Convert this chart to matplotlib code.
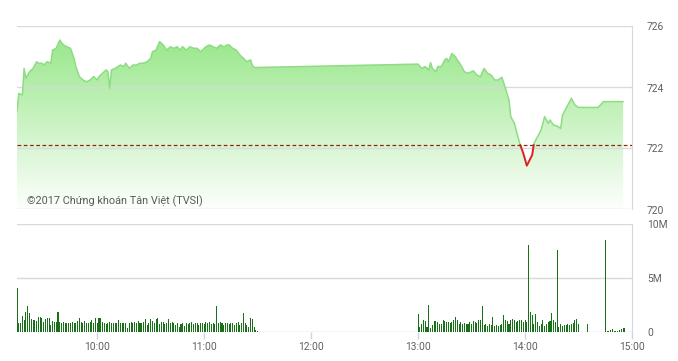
import numpy as np
import matplotlib
matplotlib.use("Agg")
import matplotlib.pyplot as plt
import matplotlib.transforms as mtransforms

plt.rcParams['font.family'] = ['Roboto', 'DejaVu Sans']

# ---------------- data ----------------
price_times = [
    "09:15", "09:16", "09:18", "09:19", "09:20", "09:22", "09:24", "09:26", "09:27", "09:29",
    "09:30", "09:32", "09:34", "09:35", "09:37", "09:39", "09:41", "09:43", "09:45", "09:47",
    "09:48", "09:50", "09:52", "09:54", "09:56", "09:58", "10:00", "10:01", "10:03", "10:05",
    "10:06", "10:07", "10:08", "10:10", "10:13", "10:15", "10:16", "10:18", "10:20", "10:22",
    "10:24", "10:26", "10:28", "10:30", "10:31", "10:33", "10:35", "10:37", "10:39", "10:41",
    "10:43", "10:45", "10:46", "10:48", "10:50", "10:52", "10:54", "10:56", "10:58", "10:59",
    "11:01", "11:03", "11:05", "11:07", "11:09", "11:11", "11:13", "11:14", "11:16", "11:18",
    "11:20", "11:22", "11:24", "11:26", "11:27", "11:28", "11:30",
    "13:00", "13:02", "13:04", "13:06", "13:07", "13:08", "13:10", "13:11", "13:13", "13:15",
    "13:16", "13:17", "13:19", "13:21", "13:22", "13:24", "13:26", "13:28", "13:30", "13:31",
    "13:33", "13:35", "13:37", "13:39", "13:41", "13:43", "13:45", "13:47", "13:49", "13:51",
    "13:52", "13:54", "13:56", "13:57", "13:59", "14:01", "14:04", "14:05", "14:07", "14:09",
    "14:11", "14:13", "14:14", "14:16", "14:18", "14:20", "14:21", "14:23", "14:25", "14:26",
    "14:28", "14:30", "14:41", "14:44", "14:55",
]
price_values = [
    723.19, 723.79, 723.74, 724.61, 724.28, 724.50, 724.61, 724.83, 724.78, 724.78,
    724.72, 724.83, 724.78, 725.21, 725.27, 725.54, 725.38, 725.32, 725.27, 724.94,
    724.67, 724.34, 724.23, 724.17, 724.23, 724.34, 724.23, 724.34, 724.45, 724.56,
    724.50, 723.96, 724.56, 724.61, 724.72, 724.67, 724.78, 724.61, 724.72, 724.72,
    724.78, 724.78, 724.83, 724.94, 725.16, 725.21, 725.49, 725.38, 725.21, 725.32,
    725.27, 725.32, 725.21, 725.32, 725.21, 725.32, 725.27, 725.27, 725.16, 725.21,
    725.32, 725.38, 725.32, 725.27, 725.38, 725.32, 725.38, 725.38, 725.27, 725.21,
    725.05, 724.94, 724.83, 724.89, 724.72, 724.64, 724.64,
    724.75, 724.61, 724.67, 724.56, 724.80, 724.61, 724.50, 724.67, 724.67, 724.89,
    724.94, 724.83, 725.10, 724.99, 724.89, 724.72, 724.50, 724.45, 724.50, 724.53,
    724.39, 724.34, 724.61, 724.45, 724.39, 724.23, 724.23, 724.32, 723.96, 723.57,
    723.03, 722.81, 722.37, 722.15, 721.83, 721.42, 721.77, 722.15, 722.37, 722.59,
    723.03, 722.81, 722.92, 722.75, 722.72, 722.64, 723.08, 723.30, 723.52, 723.63,
    723.41, 723.33, 723.33, 723.52, 723.52,
]
reference_price = 722.09

vol_morning_start = "09:15"
vol_morning = [  # millions, one bar per minute
    4.04, 0.80, 0.86, 1.48, 1.11, 1.85, 2.41, 1.79, 1.17, 1.11,
    1.11, 1.05, 1.42, 1.42, 1.27, 0.96, 1.17, 1.27, 1.27, 0.65,
    1.02, 0.96, 0.96, 1.88, 0.90, 0.86, 0.93, 0.80, 0.86, 0.80,
    0.86, 0.93, 0.80, 0.86, 0.99, 1.30, 0.96, 0.86, 1.02, 0.80,
    0.86, 0.96, 1.11, 0.86, 1.30, 0.80, 1.30, 1.27, 0.96, 0.86,
    0.74, 0.86, 0.96, 0.80, 0.86, 0.86, 0.80, 1.11, 0.80, 0.86,
    0.80, 0.80, 0.40, 0.80, 0.96, 0.80, 0.96, 0.86, 1.02, 0.80,
    0.80, 0.96, 1.17, 0.65, 0.86, 1.17, 1.05, 0.80, 1.17, 1.27,
    0.74, 0.96, 0.96, 0.74, 0.86, 1.17, 0.80, 0.96, 0.80, 0.65,
    0.86, 0.49, 0.74, 0.80, 0.56, 0.86, 0.74, 0.80, 0.96, 0.74,
    0.86, 0.80, 0.65, 0.86, 0.86, 0.74, 0.96, 0.80, 0.96, 0.74,
    0.86, 0.74, 2.41, 0.80, 0.96, 0.80, 0.65, 0.80, 0.86, 0.74,
    0.86, 0.80, 0.65, 0.80, 0.96, 0.65, 0.86, 1.79, 0.80, 0.65,
    0.49, 1.27, 1.17, 0.49, 0.19, 0.09,
]
vol_afternoon_start = "13:00"
vol_afternoon = [
    1.70, 0.46, 0.77, 1.08, 1.02, 0.46, 2.47, 0.40, 0.62, 1.02,
    1.02, 0.93, 0.77, 0.71, 1.08, 1.02, 0.93, 0.93, 0.83, 0.93,
    1.08, 1.39, 1.14, 0.77, 0.93, 0.77, 0.83, 0.77, 0.71, 0.93,
    0.77, 1.02, 0.93, 0.83, 1.08, 1.14, 2.38, 0.62, 0.71, 0.52,
    0.71, 0.62, 1.39, 0.52, 0.62, 0.52, 0.62, 0.77, 1.54, 1.08,
    1.02, 0.77, 1.14, 1.23, 1.08, 0.93, 1.02, 1.14, 1.14, 0.93,
    1.08, 0.93, 8.10, 1.82, 1.54, 0.77, 1.64, 0.93, 0.52, 0.77,
    1.14, 0.52, 0.77, 0.93, 1.02, 1.79, 1.08, 0.93, 7.56, 0.46,
    0.77, 0.52, 0.62, 0.62, 0.71, 0.62, 0.77, 0.83, 1.14, 1.20,
    0.71,
]
vol_late_times = ["14:35", "14:45", "14:46", "14:47", "14:48", "14:49", "14:50",
                  "14:51", "14:52", "14:53", "14:54", "14:55", "14:56"]
vol_late = [0.70, 8.50, 0.09, 0.10, 0.15, 0.28, 0.12, 0.10, 0.12, 0.18, 0.25, 0.40, 0.40]

price_ticks = [720, 722, 724, 726]
vol_ticks = [0, 5, 10]
vol_tick_labels = ["0", "5M", "10M"]
time_ticks = ["10:00", "11:00", "12:00", "13:00", "14:00", "15:00"]
axis_start, axis_end = "09:15", "15:00"
copyright_text = "©2017 Chứng khoán Tân Việt (TVSI)"


def to_min(s):
    h, m = map(int, s.split(":"))
    return (h - 9) * 60 + (m - 15)


# ---------------- figure ----------------
W, H = 678, 361
fig = plt.figure(figsize=(W / 100, H / 100), dpi=100)

def px_axes(x0, y_top, x1, y_bot):
    return fig.add_axes([x0 / W, (H - y_bot) / H, (x1 - x0) / W, (y_bot - y_top) / H])

ax = px_axes(17, 26, 632, 209)
ax2 = px_axes(17, 224, 632, 332)

t0, t1 = to_min(axis_start), to_min(axis_end)
grid_c = '#d8d8d8'
label_c = '#606060'
fs = 7.4

# ---- price panel ----
t = np.array([to_min(s) for s in price_times], dtype=float)
p = np.array(price_values)

poly = ax.fill_between(t, price_ticks[0], p, color='none', lw=0)
n = 256
frac = np.linspace(0, 1, n)
rgba = np.zeros((n, 1, 4))
rgba[..., 0] = 0.56
rgba[..., 1] = 0.90
rgba[..., 2] = 0.50
rgba[:, 0, 3] = 0.02 + 0.95 * frac
im = ax.imshow(rgba, extent=[t0, t1, price_ticks[0], price_ticks[-1]], origin='lower',
               aspect='auto', zorder=1, interpolation='bilinear')
im.set_clip_path(poly.get_paths()[0], transform=ax.transData)

# line with red part below reference
tt, pp = [t[0]], [p[0]]
for i in range(1, len(t)):
    a, b = p[i - 1] - reference_price, p[i] - reference_price
    if a * b < 0:
        f = a / (a - b)
        tt.append(t[i - 1] + f * (t[i] - t[i - 1]))
        pp.append(reference_price)
    tt.append(t[i]); pp.append(p[i])
tt, pp = np.array(tt), np.array(pp)
ax.plot(tt, np.ma.masked_where(pp < reference_price - 1e-9, pp), color='#8edc84', lw=1.1, zorder=3)
ax.plot(tt, np.ma.masked_where(pp > reference_price + 1e-9, pp), color='#e02020', lw=1.4, zorder=3)

for v in price_ticks:
    ax.axhline(v, color=grid_c, lw=1, zorder=2, alpha=0.9)
ax.axhline(reference_price, color='#8b2a10', lw=0.9, ls=(0, (3, 2)), zorder=4)

ax.set_xlim(t0, t1)
ax.set_ylim(price_ticks[0], price_ticks[-1])
for s in ['top', 'left', 'bottom']:
    ax.spines[s].set_visible(False)
ax.spines['right'].set_color(grid_c)
ax.set_xticks([]); ax.set_yticks([])

lbl_tr = mtransforms.blended_transform_factory(ax.transAxes, ax.transData)
off = mtransforms.ScaledTranslation(0, -1.5 / 100, fig.dpi_scale_trans)
xl = (647 - 17) / (632 - 17)
for v in price_ticks:
    ax.text(xl, v, str(v), transform=lbl_tr + off, ha='left', va='center',
            fontsize=fs, color=label_c, clip_on=False)

ax.text(10 / 615, 720 + (209 - 201) / 30.5, copyright_text, transform=lbl_tr,
        ha='left', va='center', fontsize=7.85, color='#5a5a5a', zorder=5)

# ---- volume panel ----
vm = np.arange(len(vol_morning)) + to_min(vol_morning_start)
va_ = np.arange(len(vol_afternoon)) + to_min(vol_afternoon_start)
vl = np.array([to_min(s) for s in vol_late_times])
vt = np.concatenate([vm, va_, vl])
vv = np.concatenate([vol_morning, vol_afternoon, vol_late])
ax2.bar(vt, vv, width=0.6, color='#187018', zorder=3, lw=0)

for v in vol_ticks[1:]:
    ax2.axhline(v, color=grid_c, lw=1, zorder=1)
ax2.axhline(0, color='#ccd6eb', lw=1, zorder=2)
ax2.set_xlim(t0, t1)
ax2.set_ylim(vol_ticks[0], vol_ticks[-1])
for s in ['top', 'left', 'bottom']:
    ax2.spines[s].set_visible(False)
ax2.spines['right'].set_color(grid_c)
ax2.set_yticks([])
ax2.set_xticks([to_min(s) for s in time_ticks])
ax2.set_xticklabels([])
ax2.tick_params(axis='x', length=5, width=1, color='#ccd6eb')

lbl_tr2 = mtransforms.blended_transform_factory(ax2.transAxes, ax2.transData)
for v, s in zip(vol_ticks, vol_tick_labels):
    ax2.text(xl, v, s, transform=lbl_tr2 + off, ha='left', va='center',
             fontsize=fs, color=label_c, clip_on=False)

xtr = mtransforms.blended_transform_factory(ax2.transData, ax2.transAxes)
offx = mtransforms.ScaledTranslation(0, -14.7 / 100, fig.dpi_scale_trans)
for s in time_ticks:
    ax2.text(to_min(s), 0, s, transform=xtr + offx, ha='center', va='center',
             fontsize=fs, color=label_c, clip_on=False)

fig.savefig('out.png', dpi=100)
